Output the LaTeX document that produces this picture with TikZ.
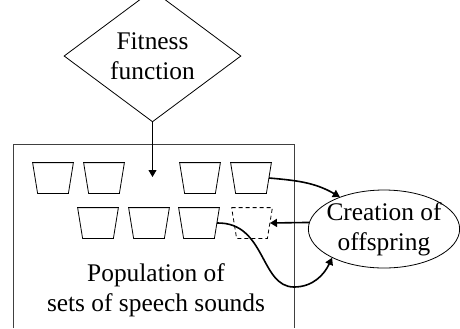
\documentclass[tikz,border=0pt]{standalone}
\usepackage{fontspec}
\setmainfont{Liberation Serif}
\usepackage{tikz}
\usetikzlibrary{positioning,arrows.meta,shapes.geometric}
\tikzset{
    fitness/.style={
           diamond,
           draw=black, thin,
           minimum width=88.5pt,
           minimum height=52pt,
           inner sep=0pt,
           align=center,
           },
    setspot/.style={
           rectangle,
           minimum width=20pt,
           minimum height=15pt,
           inner sep=0pt,
           },
    offspring/.style={
           ellipse,
           draw=black, thin,
           minimum width=75.5pt,
           minimum height=39pt,
           inner xsep=-2pt,
           inner ysep=0pt,
           align=center,
           },
    link/.style={-{Triangle[length=3.5pt,width=4pt]}, line width=0.8pt},
}
% one set of speech sounds: a cup narrowing downwards
\newcommand\soundset[3][]{%
 \node[setspot] (#2) at (#3) {};
 \draw[thin, #1] (#2.north west) -- (#2.north east)
   -- ([xshift=-2.5pt]#2.south east) -- ([xshift=2.5pt]#2.south west) -- cycle;}

\begin{document}
\begin{tikzpicture}[x=0.5pt,y=-0.5pt,
    every node/.style={font=\fontsize{12.7}{15}\selectfont}]

 \useasboundingbox (0,0) rectangle (460,328);

 % population box, open at the bottom
 \draw[draw=black!75, thin] (13,328) |- (294,144) -- (294,328);
 \node[align=center] (pop) at (156,290) {Population of\\sets of speech sounds};

 \node[fitness] (fit) at (152.5,56) {Fitness\\function};
 \coordinate (drop) at (152.5,177);
 \draw[-{Triangle[length=3.5pt,width=4pt]}, thin] (fit.south) -- (drop);

 % first row of sets
 \soundset{s1}{53,178}
 \soundset{s2}{104,178}
 \soundset{s3}{200,178}
 \soundset{s4}{251,178}
 % second row, the last one still to be filled
 \soundset{s5}{98,223}
 \soundset{s6}{149,223}
 \soundset{s7}{199,223}
 \soundset[dash pattern=on 2pt off 1.5pt]{new}{252,223}

 \node[offspring] (off) at (384,229) {Creation of\\offspring};

 \coordinate (dip) at (294,287);
 \draw[link] ([xshift=-1.2pt]s4.east) to[out=-5,in=150] (off.144);
 \draw[link] (off.175) -- ([xshift=-1.2pt]new.east);
 \draw[line width=0.8pt] ([xshift=-1.2pt]s7.east) .. controls (266,222) and (260,287) .. (dip);
 \draw[link] (dip) to[out=0,in=245] (off.209);

\end{tikzpicture}
\end{document}
